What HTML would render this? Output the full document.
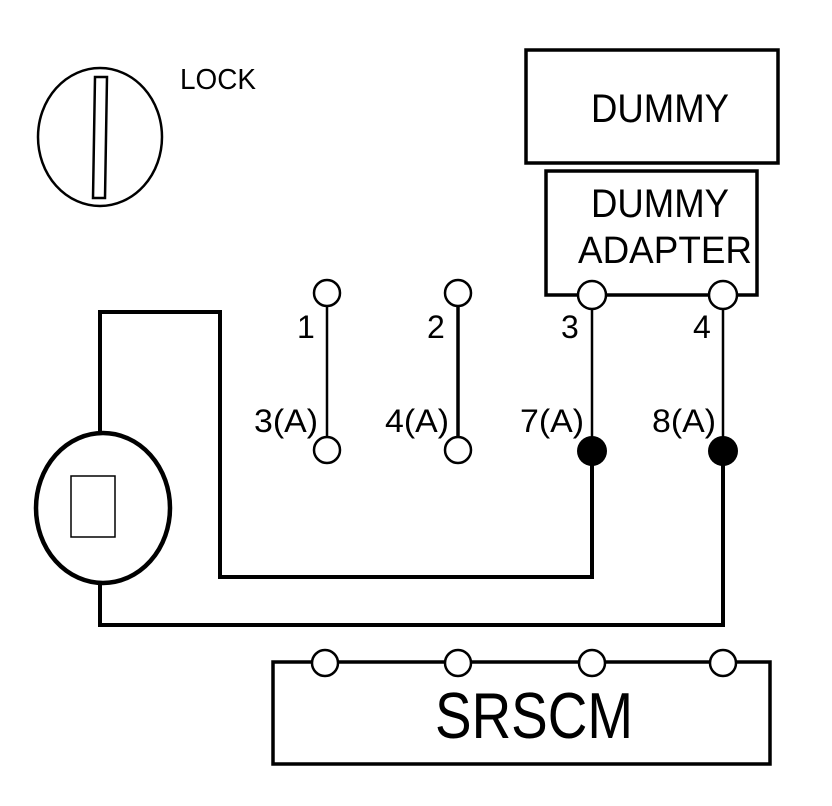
<!DOCTYPE html>
<html><head><meta charset="utf-8"><style>html,body{margin:0;padding:0;background:#fff}svg{display:block}</style></head>
<body>
<svg width="832" height="806" viewBox="0 0 832 806" xmlns="http://www.w3.org/2000/svg" font-family="Liberation Sans, sans-serif" fill="none" stroke="#000">
<!-- lock -->
<ellipse cx="100" cy="137" rx="62" ry="69" stroke-width="2.5"/>
<polygon points="95,77 107,77 105,198 93,198" stroke-width="2.5"/>
<text x="180" y="89" font-size="29" fill="#000" stroke="none" textLength="76" lengthAdjust="spacingAndGlyphs">LOCK</text>
<!-- dummy -->
<rect x="526" y="50" width="252" height="113" stroke-width="3.5"/>
<text x="591" y="122" font-size="40" fill="#000" stroke="none" textLength="138" lengthAdjust="spacingAndGlyphs">DUMMY</text>
<rect x="546" y="171" width="211" height="124" stroke-width="3.5"/>
<text x="591" y="217" font-size="40" fill="#000" stroke="none" textLength="138" lengthAdjust="spacingAndGlyphs">DUMMY</text>
<text x="578" y="263" font-size="38" fill="#000" stroke="none" textLength="174" lengthAdjust="spacingAndGlyphs">ADAPTER</text>
<!-- wires -->
<polyline points="100,432 100,312 220,312 220,577 592,577 592,450" stroke-width="4"/>
<polyline points="100,585 100,625 723,625 723,450" stroke-width="4"/>
<line x1="327" y1="293" x2="327" y2="450" stroke-width="2.5"/>
<line x1="458" y1="293" x2="458" y2="450" stroke-width="3.5"/>
<line x1="592" y1="295" x2="592" y2="450" stroke-width="2.5"/>
<line x1="723" y1="295" x2="723" y2="450" stroke-width="2.5"/>
<!-- pins -->
<g fill="#fff" stroke-width="2.5">
<circle cx="327" cy="293" r="13"/><circle cx="458" cy="293" r="13"/>
<circle cx="592" cy="295" r="14"/><circle cx="723" cy="295" r="14"/>
<circle cx="327" cy="450" r="13"/><circle cx="458" cy="450" r="13"/>
</g>
<circle cx="592" cy="451" r="15" fill="#000" stroke="none"/>
<circle cx="723" cy="451" r="15" fill="#000" stroke="none"/>
<g font-size="32" fill="#000" stroke="none">
<text x="297" y="338">1</text><text x="427" y="338">2</text>
<text x="561" y="338">3</text><text x="693" y="338">4</text>
<text x="254" y="432" textLength="64" lengthAdjust="spacingAndGlyphs">3(A)</text>
<text x="385" y="432" textLength="64" lengthAdjust="spacingAndGlyphs">4(A)</text>
<text x="520" y="432" textLength="64" lengthAdjust="spacingAndGlyphs">7(A)</text>
<text x="652" y="432" textLength="64" lengthAdjust="spacingAndGlyphs">8(A)</text>
</g>
<!-- meter -->
<ellipse cx="103" cy="508" rx="67" ry="75" stroke-width="4.5"/>
<rect x="71" y="476" width="44" height="61" stroke-width="1.5"/>
<!-- SRSCM -->
<rect x="273" y="662" width="497" height="102" stroke-width="3.5"/>
<g fill="#fff" stroke-width="2.5">
<circle cx="325" cy="663" r="13"/><circle cx="458" cy="663" r="13"/>
<circle cx="592" cy="663" r="13"/><circle cx="723" cy="663" r="13"/>
</g>
<text x="435" y="738" font-size="65" fill="#000" stroke="none" textLength="198" lengthAdjust="spacingAndGlyphs">SRSCM</text>
</svg>
</body></html>
